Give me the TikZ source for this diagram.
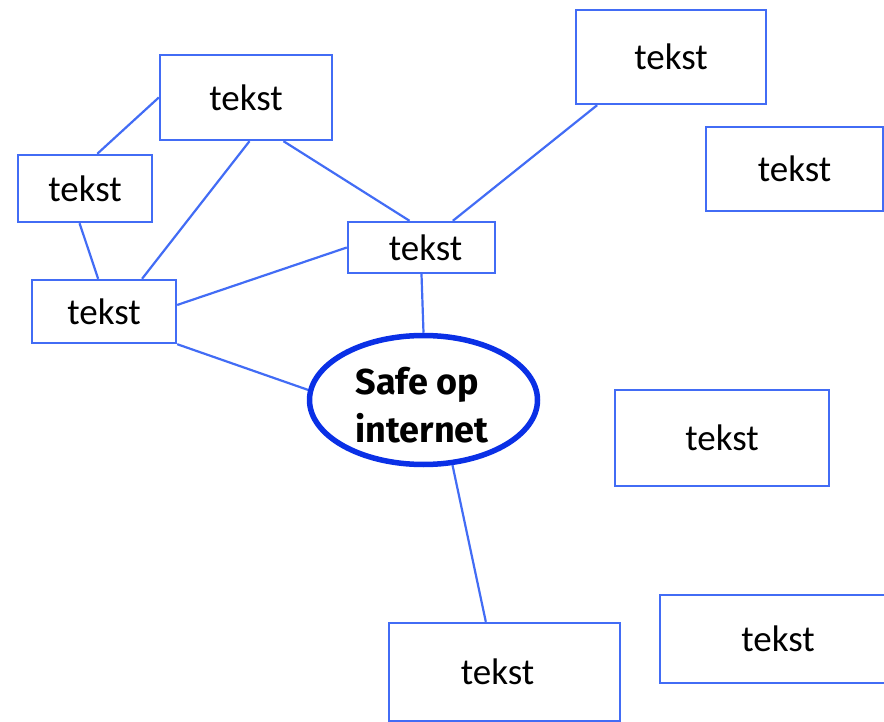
\documentclass[tikz,border=0pt]{standalone}
\usepackage{fontspec}
\setmainfont{Carlito}
\newfontfamily\safefont{Fira Sans}
\usetikzlibrary{shapes.geometric,calc}
\definecolor{boxblue}{RGB}{66,108,245}
\definecolor{safeblue}{RGB}{10,48,230}

\begin{document}
\begin{tikzpicture}[x=1pt,y=-1pt]
\tikzset{inner sep=0pt}
\tikzset{tekstbox/.style={draw=boxblue, line width=2.4pt, rectangle, font=\fontsize{37}{40}\selectfont},
         lijn/.style={draw=boxblue, line width=2.2pt},
         safe/.style={draw=safeblue, line width=5.5pt, ellipse, minimum width=228pt, minimum height=129pt}}

\useasboundingbox (0,0) rectangle (884,722);

\node [tekstbox, minimum width=172pt, minimum height=85pt] (boven) at (246,97.5) {tekst};
\node [tekstbox, minimum width=134pt, minimum height=67pt] (links) at (85,188.5) {tekst};
\node [tekstbox, minimum width=144pt, minimum height=63pt] (linksonder) at (104,311.5) {tekst};
\node [tekstbox, minimum width=147pt, minimum height=51pt] (midden) at (421.5,247.5) {\hspace{8pt}tekst};
\node [tekstbox, minimum width=190pt, minimum height=94pt] (rechtsboven) at (671,57) {tekst};
\node [tekstbox, minimum width=177pt, minimum height=84pt] (rechts) at (794.5,169) {tekst};
\node [tekstbox, minimum width=214pt, minimum height=96pt] (rechtsmidden) at (722,438) {tekst};
\node [tekstbox, minimum width=231pt, minimum height=98pt] (onder) at (504.5,672) {tekst\hspace{14pt}\null};
\node [tekstbox, minimum width=236pt, minimum height=88pt] (rechtsonder) at (778,639) {tekst};

\node [safe] (safe) at (423.5,400) {};
\node [font=\safefont\bfseries\fontsize{36}{48}\selectfont, align=left] (safetekst) at (422,405) {Safe op\\internet};

% verbindingen
\draw [lijn] (boven.west) -- ($(links.north west)!0.59!(links.north east)$);
\draw [lijn] ($(links.south west)!0.46!(links.south east)$) -- ($(linksonder.north west)!0.46!(linksonder.north east)$);
\draw [lijn] ($(boven.south west)!0.52!(boven.south east)$) -- ($(linksonder.north west)!0.76!(linksonder.north east)$);
\draw [lijn] ($(boven.south west)!0.715!(boven.south east)$) -- ($(midden.north west)!0.42!(midden.north east)$);
\draw [lijn] ($(rechtsboven.south west)!0.116!(rechtsboven.south east)$) -- ($(midden.north west)!0.71!(midden.north east)$);
\draw [lijn] ($(linksonder.north east)!0.4!(linksonder.south east)$) -- (midden.west);
\draw [lijn] (linksonder.south east) -- (safe.175);
\draw [lijn] (midden.south) -- (safe.north);
\draw [lijn] (safe.-66) -- ($(onder.north west)!0.42!(onder.north east)$);

\end{tikzpicture}
\end{document}
